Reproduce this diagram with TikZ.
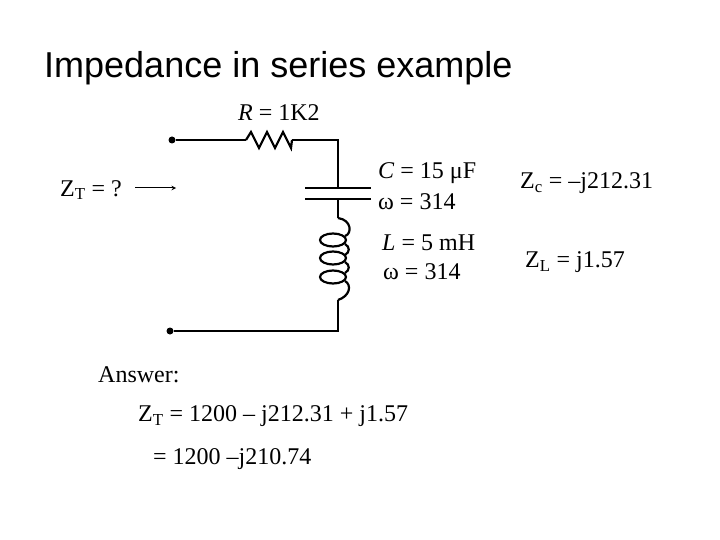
\documentclass[tikz,border=0pt]{standalone}
\usepackage{fontspec}
\setmainfont{Liberation Serif}
\newfontfamily\arialf{Liberation Sans}
\begin{document}
\begin{tikzpicture}[x=1pt,y=-1pt,
  wire/.style={line width=2.2pt},
  lbl/.style={anchor=west,inner sep=0pt,font=\fontsize{24}{26}\selectfont},
  dotn/.style={circle,fill,inner sep=0pt,minimum size=7pt}]
\useasboundingbox (0,0) rectangle (720,540);
\node[anchor=west,inner sep=0pt,font=\arialf\fontsize{36}{40}\selectfont] (title) at (44,68) {Impedance in series example};
\node[dotn] (a) at (172,140) {};
\node[dotn] (b) at (170,331) {};
\coordinate (r1) at (246,140);
\coordinate (r2) at (292,140);
\coordinate (tr) at (338,140);
\coordinate (c1) at (338,188);
\coordinate (c2) at (338,199);
\coordinate (l1) at (338,218);
\coordinate (l2) at (338,300);
\coordinate (br) at (338,331);
\draw[wire] (a) -- (r1);
\draw[wire] (r1) -- ++(5,-8) -- ++(8,16) -- ++(8,-16) -- ++(8,16) -- ++(8,-16) -- ++(8,16) -- (r2);
\draw[wire] (r2) -- (tr) -- (c1);
\draw[wire] (305,188) -- (371,188);
\draw[wire] (305,199) -- (371,199);
\draw[wire] (c2) -- (l1);
\draw[wire] (l1) .. controls (352,220) and (352,234) .. (345,236);
\foreach \yy in {240,258,277} \draw[wire] (333,\yy) ellipse [x radius=13, y radius=6.5];
\draw[wire] (345,244) .. controls (350,247) and (350,252) .. (345,255);
\draw[wire] (345,262) .. controls (350,265) and (350,270) .. (345,273);
\draw[wire] (345,281) .. controls (352,285) and (350,296) .. (l2);
\draw[wire] (l2) -- (br) -- (b);
\node[lbl] (rl) at (238,113) {\textit{R} = 1K2};
\node[lbl] (cl) at (378,173) {\textit{C} = 15 μF};
\node[lbl] (cw) at (378,202) {ω = 314};
\node[lbl] (ll) at (382,243) {\textit{L} = 5 mH};
\node[lbl] (lw) at (383,272) {ω = 314};
\node[lbl] (zt) at (60,190) {Z\textsubscript{T} = ?};
\coordinate (ar1) at (135,188);
\coordinate (ar2) at (176,188);
\draw[line width=1pt,-stealth] (ar1) -- (ar2);
\node[lbl] (zc) at (520,183) {Z\textsubscript{c} = –j212.31};
\node[lbl] (zl) at (525,262) {Z\textsubscript{L} = j1.57};
\node[lbl] (ans) at (98,375) {Answer:};
\node[lbl] (a1) at (138,416) {Z\textsubscript{T} = 1200 – j212.31 + j1.57};
\node[lbl] (a2) at (153,459) {= 1200 –j210.74};
\end{tikzpicture}
\end{document}
